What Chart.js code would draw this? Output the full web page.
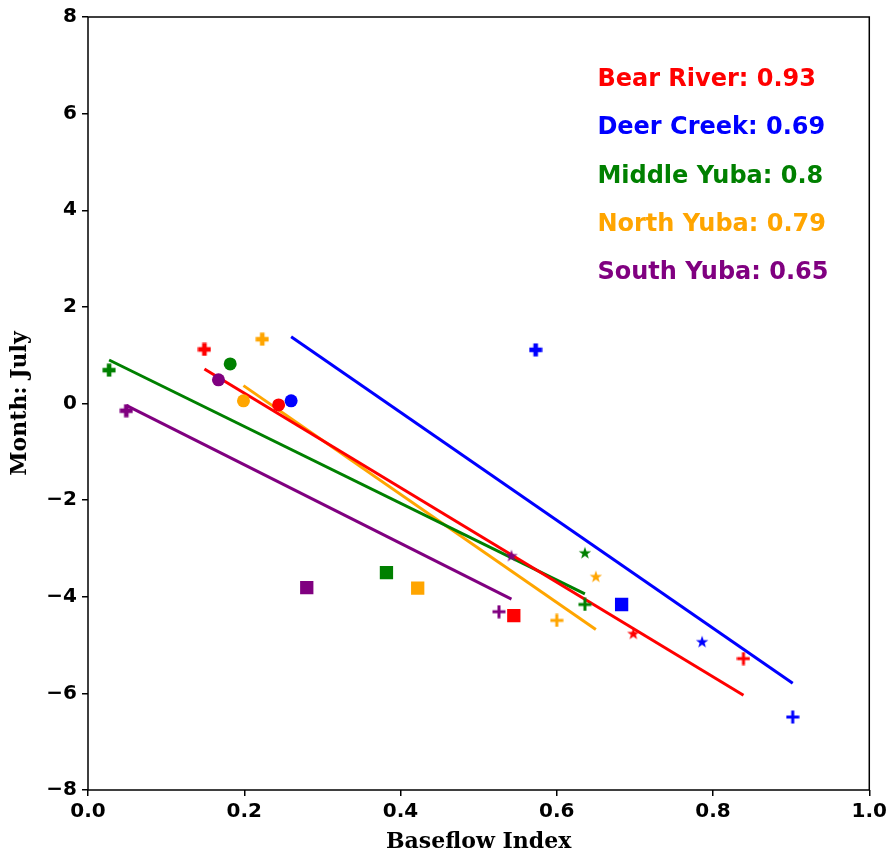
<!DOCTYPE html>
<html>
<head>
<meta charset="utf-8">
<script src="https://cdn.jsdelivr.net/npm/chart.js@4.4.0/dist/chart.umd.min.js"></script>
<style>
    body { margin: 0; background: #fff; }
    canvas { display: block; }
</style>
</head>
<body>
<canvas id="bfiChart" width="891" height="856"></canvas>
<script>
// rivers and their correlation with baseflow index
const riverNames = ["Bear River", "Deer Creek", "Middle Yuba", "North Yuba", "South Yuba"];
const riverR = [0.93, 0.69, 0.8, 0.79, 0.65];
const riverColors = ["#ff0000", "#0000ff", "#008000", "#ffa500", "#800080"];

// points per river, in marker order: filled plus, circle, square, star, plus
const bearX = [0.149, 0.244, 0.545, 0.698, 0.839];
const bearY = [1.12, -0.03, -4.39, -4.76, -5.28];
const deerX = [0.573, 0.260, 0.683, 0.786, 0.902];
const deerY = [1.11, 0.055, -4.16, -4.93, -6.49];
const middleX = [0.027, 0.182, 0.382, 0.636, 0.636];
const middleY = [0.69, 0.82, -3.50, -3.09, -4.16];
const northX = [0.223, 0.199, 0.422, 0.650, 0.600];
const northY = [1.33, 0.055, -3.82, -3.58, -4.49];
const southX = [0.049, 0.167, 0.280, 0.542, 0.526];
const southY = [-0.15, 0.49, -3.81, -3.15, -4.31];

// fitted line end points
const bearFitX = [0.149, 0.839];
const bearFitY = [0.715, -6.04];
const deerFitX = [0.260, 0.902];
const deerFitY = [1.38, -5.79];
const middleFitX = [0.027, 0.636];
const middleFitY = [0.90, -3.94];
const northFitX = [0.199, 0.650];
const northFitY = [0.37, -4.68];
const southFitX = [0.049, 0.542];
const southFitY = [-0.04, -4.05];

const xTicks = [0, 0.2, 0.4, 0.6, 0.8, 1.0];
const yTicks = [-8, -6, -4, -2, 0, 2, 4, 6, 8];

const pointsX = [bearX, deerX, middleX, northX, southX];
const pointsY = [bearY, deerY, middleY, northY, southY];
const fitsX = [bearFitX, deerFitX, middleFitX, northFitX, southFitX];
const fitsY = [bearFitY, deerFitY, middleFitY, northFitY, southFitY];

function toXY(xs, ys) {
    return xs.map((x, i) => ({ x: x, y: ys[i] }));
}

// small canvases used as point styles
function makeStar(color) {
    let c = document.createElement("canvas");
    c.width = 14; c.height = 14;
    let ctx = c.getContext("2d");
    ctx.fillStyle = color;
    ctx.beginPath();
    for (let i = 0; i < 10; i++) {
        let r = i % 2 === 0 ? 6.5 : 2.6;
        let a = -Math.PI / 2 + i * Math.PI / 5;
        let px = 7 + r * Math.cos(a), py = 7.5 + r * Math.sin(a);
        if (i === 0) ctx.moveTo(px, py); else ctx.lineTo(px, py);
    }
    ctx.closePath();
    ctx.fill();
    return c;
}

function makeFilledPlus(color) {
    let c = document.createElement("canvas");
    c.width = 14; c.height = 14;
    let ctx = c.getContext("2d");
    ctx.fillStyle = color;
    ctx.fillRect(4.7, 0.5, 4.6, 13);
    ctx.fillRect(0.5, 4.7, 13, 4.6);
    return c;
}

function makePlus(color) {
    let c = document.createElement("canvas");
    c.width = 14; c.height = 14;
    let ctx = c.getContext("2d");
    ctx.strokeStyle = color;
    ctx.lineWidth = 3;
    ctx.beginPath();
    ctx.moveTo(7, 0.5); ctx.lineTo(7, 13.5);
    ctx.moveTo(0.5, 7); ctx.lineTo(13.5, 7);
    ctx.stroke();
    return c;
}

let datasets = [];
riverNames.forEach((name, i) => {
    let color = riverColors[i];
    datasets.push({
        type: "scatter",
        label: name,
        data: toXY(pointsX[i], pointsY[i]),
        pointStyle: [makeFilledPlus(color), "circle", "rect", makeStar(color), makePlus(color)],
        pointRadius: [7, 6.5, 9.4, 7, 7],
        backgroundColor: color,
        borderColor: color,
        pointBorderWidth: 0,
    });
});
riverNames.forEach((name, i) => {
    datasets.push({
        type: "line",
        label: name + " fit",
        data: toXY(fitsX[i], fitsY[i]),
        borderColor: riverColors[i],
        borderWidth: 3,
        pointRadius: 0,
        fill: false,
        tension: 0,
    });
});

// frame around the plot and the correlation labels
const framePlugin = {
    id: "frame",
    afterDraw(chart) {
        let ctx = chart.ctx;
        let a = chart.chartArea;
        ctx.save();
        ctx.strokeStyle = "#000";
        ctx.lineWidth = 1.5;
        ctx.strokeRect(a.left, a.top, a.right - a.left, a.bottom - a.top);

        let xs = chart.scales.x, ys = chart.scales.y;
        ctx.font = "bold 24px 'DejaVu Sans'";
        ctx.textBaseline = "middle";
        ctx.textAlign = "left";
        riverNames.forEach((name, i) => {
            ctx.fillStyle = riverColors[i];
            ctx.fillText(name + ": " + riverR[i], xs.getPixelForValue(0.652), ys.getPixelForValue(6.7 - i));
        });
        ctx.restore();
    },
};

let bfiChart = new Chart(document.getElementById("bfiChart"), {
    data: { datasets: datasets },
    options: {
        responsive: false,
        animation: false,
        devicePixelRatio: 1,
        layout: { padding: { left: 0, top: 14, right: 21, bottom: 0 } },
        plugins: {
            legend: { display: false },
            tooltip: { enabled: false },
        },
        scales: {
            x: {
                type: "linear",
                min: 0,
                max: 1,
                afterFit(scale) { scale.height = 66; },
                afterBuildTicks(scale) { scale.ticks = xTicks.map(v => ({ value: v })); },
                border: { display: false },
                grid: { drawOnChartArea: false, color: "#000", tickColor: "#000", tickLength: 6, lineWidth: 1.5 },
                ticks: {
                    padding: 4,
                    color: "#000",
                    font: { family: "DejaVu Sans", size: 20, weight: "bold" },
                    maxRotation: 0,
                    callback: v => v.toFixed(1),
                },
                title: {
                    display: true,
                    text: "Baseflow Index",
                    color: "#000",
                    font: { family: "DejaVu Serif", size: 22, weight: "bold" },
                    padding: { top: 0, bottom: 1 },
                },
            },
            y: {
                type: "linear",
                min: -8,
                max: 8,
                afterFit(scale) { scale.width = 88; },
                afterBuildTicks(scale) { scale.ticks = yTicks.map(v => ({ value: v })); },
                border: { display: false },
                grid: { drawOnChartArea: false, color: "#000", tickColor: "#000", tickLength: 6, lineWidth: 1.5 },
                ticks: {
                    padding: 5,
                    color: "#000",
                    font: { family: "DejaVu Sans", size: 20, weight: "bold" },
                    callback: v => String(v).replace("-", "\u2212"),
                },
                title: {
                    display: true,
                    text: "Month: July",
                    color: "#000",
                    font: { family: "DejaVu Serif", size: 22, weight: "bold" },
                    padding: { top: 7, bottom: 0 },
                },
            },
        },
    },
    plugins: [framePlugin],
});
</script>
</body>
</html>
